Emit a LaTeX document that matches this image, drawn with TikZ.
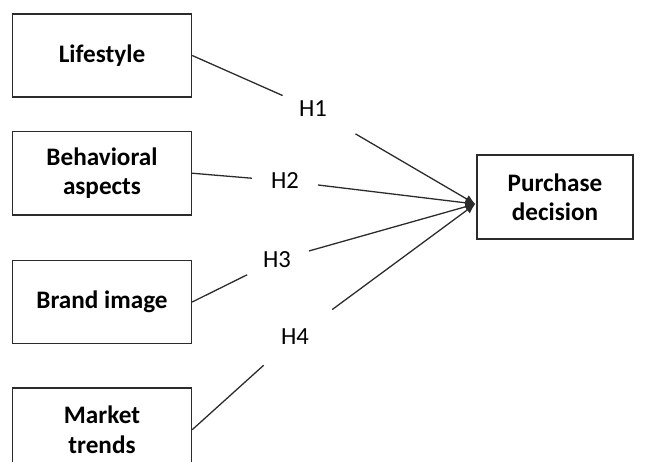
\documentclass[tikz,border=0pt]{standalone}
\usepackage{fontspec}
\setmainfont{Carlito}
\usepackage{tikz}
\usetikzlibrary{positioning, arrows.meta, calc}
\definecolor{edgegray}{HTML}{2b2b2b}

\begin{document}
\begin{tikzpicture}[
        node distance=1cm,
        factor/.style={rectangle, draw=edgegray, line width=1.2pt, minimum width=5.37cm, minimum height=2.5cm, align=center, font=\fontsize{21.5}{25}\selectfont\bfseries},
        hyp/.style={circle, minimum size=1.98cm, inner sep=0pt, font=\fontsize{21}{25}\selectfont},
        link/.style={draw=edgegray, line width=1.1pt},
        arr/.style={link, -{Latex[length=3mm, width=2.6mm]}}
    ]
        \useasboundingbox (0,0) rectangle (19.38,-13.83);

        % Factors
        \node[factor] (life) at (3.06,-1.665) {Lifestyle};
        \node[factor, below=0.99cm of life] (behav) {Behavioral\\aspects};
        \node[factor, below=1.32cm of behav] (brand) {Brand image};
        \node[factor, below=1.29cm of brand] (market) {Market\\trends};

        % Outcome
        \node[factor, minimum width=4.68cm, minimum height=2.52cm] (purchase) at (16.65,-5.91) {Purchase\\decision};
        \coordinate (tip) at ($(purchase.west)+(-0.03,-0.21)$);

        % Hypotheses
        \node[hyp] (h1) at (9.39,-3.27) {H1};
        \node[hyp] (h2) at (8.55,-5.43) {H2};
        \node[hyp] (h3) at (8.31,-7.80) {H3};
        \node[hyp] (h4) at (8.85,-10.11) {H4};

        % Factors to hypotheses
        \draw[link] (life.east) -- (h1);
        \draw[link] (behav.east) -- (h2);
        \draw[link] (brand.east) -- (h3);
        \draw[link, shorten >=0.27cm] (market.east) -- (h4);

        % Hypotheses to purchase decision
        \draw[arr, shorten <=0.48cm] (h1) -- (tip);
        \draw[arr] (h2) -- (tip);
        \draw[arr] (h3) -- (tip);
        \draw[arr, shorten <=0.39cm] (h4) -- (tip);
    \end{tikzpicture}
\end{document}
